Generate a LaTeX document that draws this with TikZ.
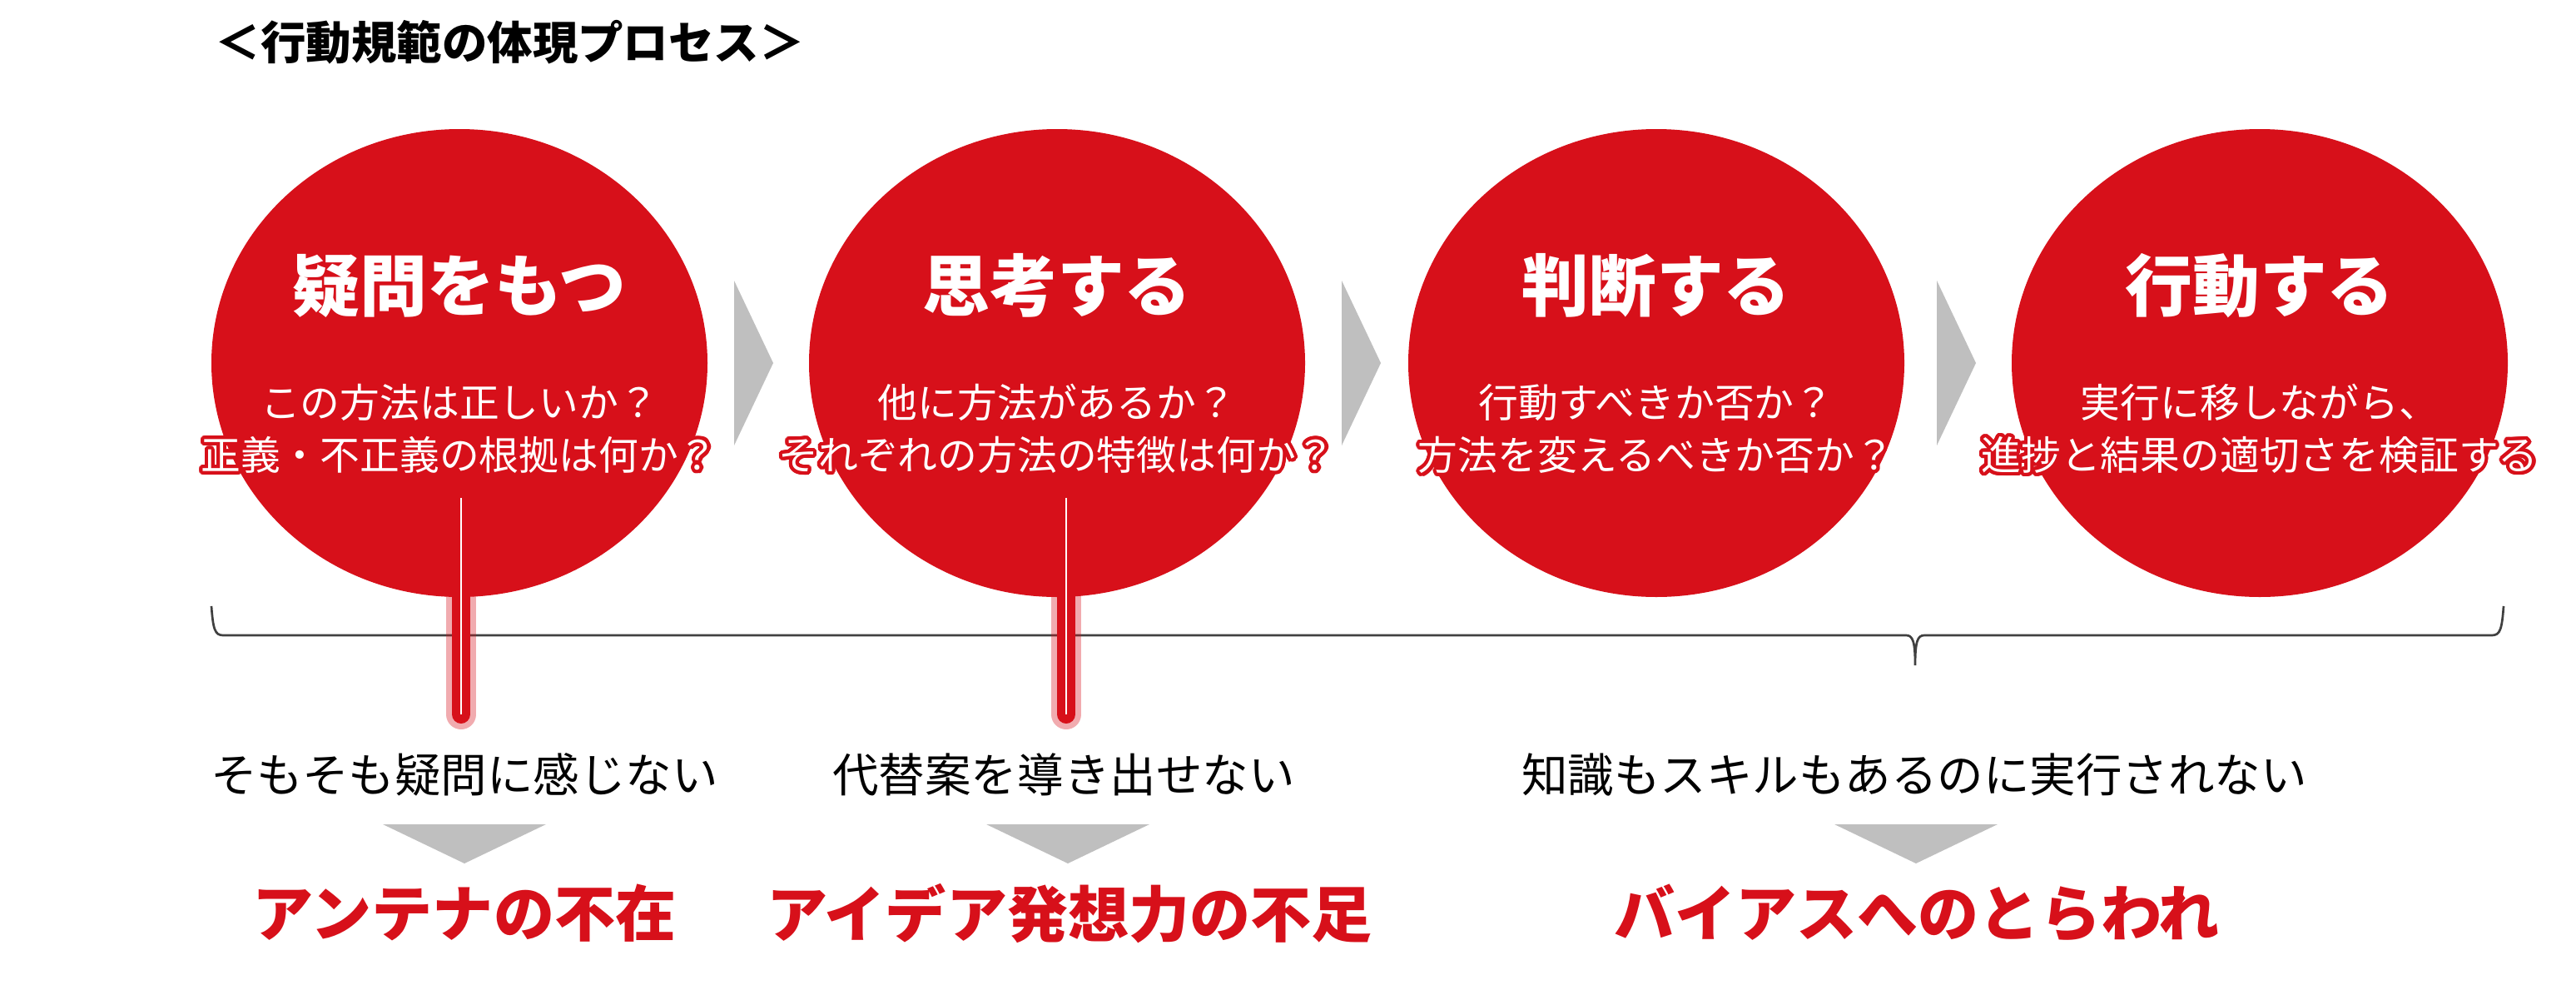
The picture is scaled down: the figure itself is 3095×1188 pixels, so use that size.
\documentclass[tikz,border=0pt]{standalone}
\usepackage{fontspec}
\setmainfont{Noto Sans CJK JP}
\usepackage[copies]{contour}
\usetikzlibrary{shapes.geometric}

\definecolor{procred}{RGB}{215,16,26}
\definecolor{arrowgray}{RGB}{191,191,191}
\definecolor{bracegray}{RGB}{64,64,64}
\contourlength{1.2pt}
\contournumber{24}

\tikzset{
  stage/.style={ellipse, fill=procred, minimum width=59.6mm, minimum height=56.2mm, inner sep=0pt},
  stagename/.style={text=white, inner sep=0pt, font=\bfseries\fontsize{23pt}{28pt}\selectfont},
  question/.style={text=white, align=center, inner sep=0pt, font=\fontsize{13.6pt}{17.9pt}\selectfont},
  pitfall/.style={inner sep=0pt, font=\fontsize{15.8pt}{19pt}\selectfont},
  cause/.style={text=procred, inner sep=0pt, font=\bfseries\fontsize{20.8pt}{25pt}\selectfont},
}

\begin{document}
\begin{tikzpicture}[x=0.1mm, y=-0.1mm]
        % Fondo
        \fill[white] (0,0) rectangle (3095,1188);
        \useasboundingbox (0,0) rectangle (3095,1188);

        % Título
        \node[anchor=west, inner sep=0pt, font=\bfseries\fontsize{15.5pt}{18pt}\selectfont] (title) at (258,51) {＜行動規範の体現プロセス＞};

        % Etapas: círculo, nombre y preguntas
        \foreach \i/\cx/\nombre/\pa/\pb in {
            1/552/疑問をもつ/この方法は正しいか？/正義・不正義の根拠は何か？,
            2/1270/思考する/他に方法があるか？/それぞれの方法の特徴は何か？,
            3/1990/判断する/行動すべきか否か？/方法を変えるべきか否か？,
            4/2715/行動する/実行に移しながら、/進捗と結果の適切さを検証する} {
            \node[stage] (c\i) at (\cx,436) {};
            \node[stagename] (h\i) at (\cx,343) {\nombre};
            \node[question] (q\i) at (\cx,517) {\contour{procred}{\pa}\\\contour{procred}{\pb}};
        }

        % Flechas grises entre etapas
        \foreach \xa in {882,1612,2327} {
            \fill[arrowgray] (\xa,337) -- ++(47,99) -- ++(-47,99) -- cycle;
        }

        % Llave
        \draw[bracegray, line width=0.27mm]
            (254,728) .. controls (256,755) and (258,763) .. (268,763)
            -- (2290,763) .. controls (2298,763) and (2301,770) .. (2301,799)
            .. controls (2301,770) and (2304,763) .. (2312,763)
            -- (2994,763) .. controls (3004,763) and (3006,755) .. (3008,728);

        % Líneas rojas con brillo
        \coordinate (t1) at (554,598);
        \coordinate (b1) at (554,858);
        \coordinate (t2) at (1281,598);
        \coordinate (b2) at (1281,858);
        \foreach \k in {1,2} {
            \draw[procred, opacity=0.35, line width=3.6mm, line cap=round] (t\k) -- (b\k);
            \draw[procred, line width=2.2mm, line cap=round] (t\k) -- (b\k);
            \draw[white, line width=0.27mm] (t\k) -- (b\k);
        }

        % Problemas
        \node[pitfall] (p1) at (558,930)  {そもそも疑問に感じない};
        \node[pitfall] (p2) at (1278,930) {代替案を導き出せない};
        \node[pitfall] (p3) at (2300,930) {知識もスキルもあるのに実行されない};

        % Triángulos hacia abajo
        \foreach \xm in {558,1283,2302} {
            \fill[arrowgray] (\xm-98,990) -- (\xm+98,990) -- (\xm,1037) -- cycle;
        }

        % Causas
        \node[cause] (r1) at (558,1097)  {アンテナの不在};
        \node[cause] (r2) at (1285,1097) {アイデア発想力の不足};
        \node[cause] (r3) at (2303,1097) {バイアスへのとらわれ};
\end{tikzpicture}
\end{document}
